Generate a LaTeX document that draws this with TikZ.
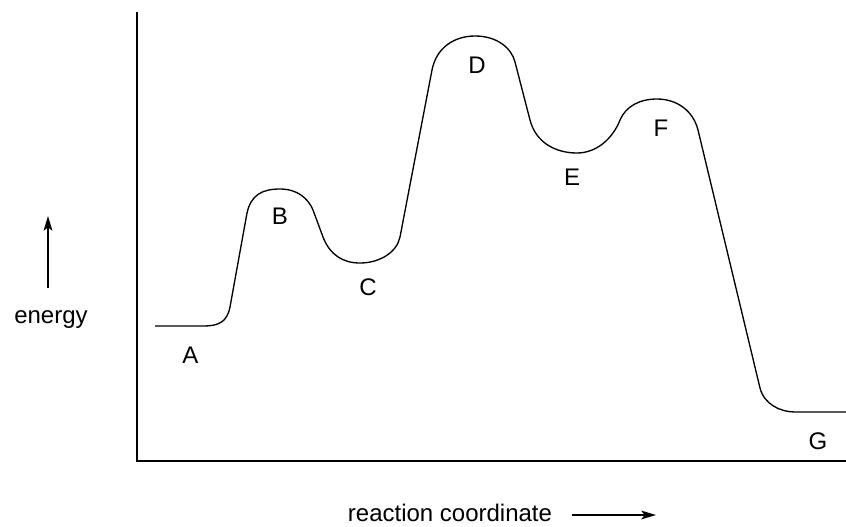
\documentclass[tikz,border=0pt]{standalone}
\usepackage{fontspec}
\setmainfont{Liberation Sans}
\usetikzlibrary{arrows.meta}
\begin{document}
\begin{tikzpicture}[x=0.75pt,y=-0.75pt,
  lbl/.style={font=\fontsize{18}{21}\selectfont, inner sep=0pt},
  axis/.style={line width=1.5pt},
  curve/.style={line width=1pt, line join=round},
  dirarrow/.style={line width=1.2pt, -{Stealth[length=11pt,width=6.5pt,inset=2.5pt]}}]
\useasboundingbox (0,0) rectangle (846,526);
% axes
\coordinate (ytop) at (137,12);
\coordinate (origin) at (137,461);
\coordinate (xend) at (846,461);
\draw[axis] (ytop) -- (origin) -- (xend);
% energy arrow
\coordinate (e1) at (48,288);
\coordinate (e2) at (48,216);
\draw[dirarrow] (e1) -- (e2);
\node[lbl, anchor=base] (energy) at (51,323) {energy};
% reaction coordinate
\node[lbl, anchor=base] (rc) at (450,521.5) {reaction coordinate};
\coordinate (r1) at (572,515);
\coordinate (r2) at (656,515);
\draw[dirarrow] (r1) -- (r2);
% energy profile
\draw[curve] (155,326) -- (203,326)
  .. controls (219,326) and (227,322) .. (230,307)
  -- (247,213)
  .. controls (251,195) and (262,189) .. (280,189)
  .. controls (297,189) and (308,198) .. (313,210)
  -- (323,237)
  .. controls (330,255) and (343,263) .. (360,263)
  .. controls (380,263) and (397,252) .. (400,237)
  -- (432,70)
  .. controls (436.5,47) and (455,36) .. (475,36)
  .. controls (497,36) and (511.5,48) .. (515,62)
  -- (530,120)
  .. controls (536,143) and (556,153) .. (577,153)
  .. controls (597,153) and (613,138) .. (620,120)
  .. controls (626,106) and (640,99) .. (657,99)
  .. controls (676,99) and (693,110) .. (698,130)
  -- (760,388)
  .. controls (764,404) and (780,412) .. (795,412)
  -- (846,412);
% labels
\node[lbl] (A) at (190.5,355.5) {A};
\node[lbl] (B) at (280,216.5) {B};
\node[lbl] (C) at (368,287) {C};
\node[lbl] (D) at (477,65) {D};
\node[lbl] (E) at (572,177) {E};
\node[lbl] (F) at (661,128) {F};
\node[lbl] (G) at (818,441) {G};
\end{tikzpicture}
\end{document}
